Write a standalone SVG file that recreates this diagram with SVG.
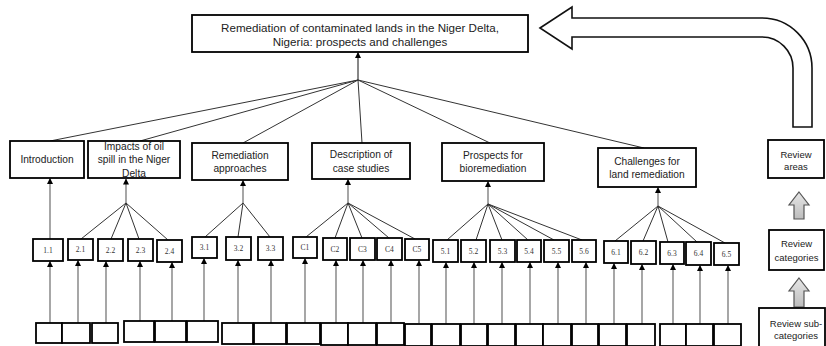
<svg xmlns="http://www.w3.org/2000/svg" width="826" height="346" viewBox="0 0 826 346">
<style>
.box{fill:#fff;stroke:#000;stroke-width:1.8}
.lbl{font-family:"Liberation Sans",Arial,sans-serif;font-size:10.2px;fill:#222;text-anchor:middle}
.leg{font-family:"Liberation Sans",Arial,sans-serif;font-size:9.5px;fill:#222;text-anchor:middle}
.ttl{font-family:"Liberation Sans",Arial,sans-serif;font-size:11.6px;fill:#222;text-anchor:middle}
.sub{font-family:"Liberation Serif","Times New Roman",serif;font-size:7.5px;fill:#333;text-anchor:middle}
.hub{stroke:#333;stroke-width:1;fill:none}
.up{stroke:#777;stroke-width:1.3;fill:none;marker-end:url(#ah)}
.tup{stroke:#111;stroke-width:1;fill:none;marker-end:url(#ah)}
.big{fill:#fff;stroke:#111;stroke-width:1.6}
.gray{fill:url(#gg);stroke:#555;stroke-width:1.2}
</style>
<defs>
<marker id="ah" markerWidth="6" markerHeight="6" refX="5.5" refY="3" orient="auto" markerUnits="userSpaceOnUse">
<path d="M0,0 L6,3 L0,6 z" fill="#000"/>
</marker>
<linearGradient id="gg" x1="0" y1="0" x2="0" y2="1">
<stop offset="0" stop-color="#e6e6e6"/>
<stop offset="1" stop-color="#bdbdbd"/>
</linearGradient>
</defs>

<g id="big-arrow">
<path class="big" d="M540,28 L572,7 L572,18 L762,18 A50,50 0 0 1 812,68 L812,127 L793,127 L793,68 A31,31 0 0 0 762,37 L572,37 L572,49 Z"/>
</g>

<g id="connectors">
<line class="tup" x1="358" y1="80" x2="358" y2="52.5"/>
<line class="hub" x1="358" y1="80" x2="50" y2="141"/>
<line class="hub" x1="358" y1="80" x2="140" y2="141"/>
<line class="hub" x1="358" y1="80" x2="243" y2="143"/>
<line class="hub" x1="358" y1="80" x2="362" y2="143"/>
<line class="hub" x1="358" y1="80" x2="490" y2="143"/>
<line class="hub" x1="358" y1="80" x2="644" y2="148"/>

<line class="up" x1="50" y1="239" x2="50" y2="178.5"/>
<line class="up" x1="126" y1="203" x2="126" y2="179"/>
<line class="hub" x1="126" y1="203" x2="81" y2="239"/>
<line class="hub" x1="126" y1="203" x2="111" y2="239"/>
<line class="hub" x1="126" y1="203" x2="139" y2="239"/>
<line class="hub" x1="126" y1="203" x2="168" y2="240"/>

<line class="up" x1="243" y1="203" x2="243" y2="180.5"/>
<line class="hub" x1="243" y1="203" x2="205" y2="237"/>
<line class="hub" x1="243" y1="203" x2="238" y2="237"/>
<line class="hub" x1="243" y1="203" x2="270" y2="237"/>

<line class="up" x1="348" y1="203" x2="348" y2="179.5"/>
<line class="hub" x1="348" y1="203" x2="306" y2="237"/>
<line class="hub" x1="348" y1="203" x2="335" y2="238"/>
<line class="hub" x1="348" y1="203" x2="362" y2="238"/>
<line class="hub" x1="348" y1="203" x2="389" y2="238"/>
<line class="hub" x1="348" y1="203" x2="415" y2="239"/>

<line class="up" x1="488" y1="204" x2="488" y2="181.5"/>
<line class="hub" x1="488" y1="204" x2="447" y2="240"/>
<line class="hub" x1="488" y1="204" x2="476" y2="240"/>
<line class="hub" x1="488" y1="204" x2="502" y2="240"/>
<line class="hub" x1="488" y1="204" x2="528" y2="240"/>
<line class="hub" x1="488" y1="204" x2="554" y2="240"/>
<line class="hub" x1="488" y1="204" x2="582" y2="240"/>

<line class="up" x1="658" y1="206" x2="658" y2="187.5"/>
<line class="hub" x1="658" y1="206" x2="615" y2="241"/>
<line class="hub" x1="658" y1="206" x2="643" y2="241"/>
<line class="hub" x1="658" y1="206" x2="668" y2="242"/>
<line class="hub" x1="658" y1="206" x2="697" y2="242"/>
<line class="hub" x1="658" y1="206" x2="725" y2="243"/>

<line class="up" x1="50" y1="323" x2="50" y2="261.5"/>
<line class="up" x1="78" y1="323" x2="78" y2="260.5"/>
<line class="up" x1="106" y1="323" x2="106" y2="261.5"/>
<line class="up" x1="140" y1="321" x2="140" y2="261.5"/>
<line class="up" x1="172" y1="321" x2="172" y2="262.5"/>
<line class="up" x1="204" y1="321" x2="204" y2="258.5"/>
<line class="up" x1="238" y1="323" x2="238" y2="260.5"/>
<line class="up" x1="271" y1="323" x2="271" y2="260.5"/>
<line class="up" x1="305" y1="323" x2="305" y2="258.5"/>
<line class="up" x1="336" y1="323" x2="336" y2="260.5"/>
<line class="up" x1="363" y1="323" x2="363" y2="260.5"/>
<line class="up" x1="391" y1="323" x2="391" y2="260.5"/>
<line class="up" x1="419" y1="323" x2="419" y2="260.5"/>
<line class="up" x1="446" y1="324" x2="446" y2="262.5"/>
<line class="up" x1="474" y1="324" x2="474" y2="262.5"/>
<line class="up" x1="502" y1="324" x2="502" y2="262.5"/>
<line class="up" x1="530" y1="324" x2="530" y2="262.5"/>
<line class="up" x1="558" y1="324" x2="558" y2="262.5"/>
<line class="up" x1="586" y1="324" x2="586" y2="262.5"/>
<line class="up" x1="614" y1="324" x2="614" y2="263.5"/>
<line class="up" x1="642" y1="324" x2="642" y2="264.5"/>
<line class="up" x1="673" y1="324" x2="673" y2="264.5"/>
<line class="up" x1="700" y1="324" x2="700" y2="265.5"/>
<line class="up" x1="728" y1="324" x2="728" y2="265.5"/>
</g>

<g id="title">
<rect class="box" x="192" y="15" width="336" height="37"/>
<text class="ttl" x="360" y="32">Remediation of contaminated lands in the Niger Delta,</text>
<text class="ttl" x="360" y="46">Nigeria: prospects and challenges</text>
</g>

<g id="cat-introduction">
<rect class="box" x="10" y="141" width="74" height="37"/>
<text class="lbl" x="47" y="163">Introduction</text>
</g>
<g id="cat-impacts">
<rect class="box" x="88" y="141" width="92" height="37"/>
<text class="lbl" x="134" y="150">Impacts of oil</text>
<text class="lbl" x="134" y="163">spill in the Niger</text>
<text class="lbl" x="134" y="177">Delta</text>
</g>
<g id="cat-remediation">
<rect class="box" x="192" y="143" width="96" height="37"/>
<text class="lbl" x="240" y="159">Remediation</text>
<text class="lbl" x="240" y="172">approaches</text>
</g>
<g id="cat-description">
<rect class="box" x="312" y="143" width="98" height="36"/>
<text class="lbl" x="361" y="158">Description of</text>
<text class="lbl" x="361" y="172">case studies</text>
</g>
<g id="cat-prospects">
<rect class="box" x="442" y="143" width="102" height="38"/>
<text class="lbl" x="493" y="159">Prospects for</text>
<text class="lbl" x="493" y="172">bioremediation</text>
</g>
<g id="cat-challenges">
<rect class="box" x="598" y="148" width="98" height="39"/>
<text class="lbl" x="647" y="165">Challenges for</text>
<text class="lbl" x="647" y="178">land remediation</text>
</g>

<g id="sub-1-1"><rect class="box" x="33" y="239" width="30" height="22"/><text class="sub" x="48" y="252.5">1.1</text></g>
<g id="sub-2-1"><rect class="box" x="68" y="239" width="25" height="21"/><text class="sub" x="80.5" y="252">2.1</text></g>
<g id="sub-2-2"><rect class="box" x="98" y="239" width="25" height="22"/><text class="sub" x="110.5" y="252.5">2.2</text></g>
<g id="sub-2-3"><rect class="box" x="128" y="239" width="25" height="22"/><text class="sub" x="140.5" y="252.5">2.3</text></g>
<g id="sub-2-4"><rect class="box" x="157" y="240" width="25" height="22"/><text class="sub" x="169.5" y="253.5">2.4</text></g>
<g id="sub-3-1"><rect class="box" x="192" y="237" width="25" height="21"/><text class="sub" x="204.5" y="250">3.1</text></g>
<g id="sub-3-2"><rect class="box" x="226" y="237" width="25" height="23"/><text class="sub" x="238.5" y="251">3.2</text></g>
<g id="sub-3-3"><rect class="box" x="258" y="237" width="25" height="23"/><text class="sub" x="270.5" y="251">3.3</text></g>
<g id="sub-c1"><rect class="box" x="293" y="237" width="24" height="21"/><text class="sub" x="305" y="250">C1</text></g>
<g id="sub-c2"><rect class="box" x="323" y="238" width="24" height="22"/><text class="sub" x="335" y="251.5">C2</text></g>
<g id="sub-c3"><rect class="box" x="350" y="238" width="25" height="22"/><text class="sub" x="362.5" y="251.5">C3</text></g>
<g id="sub-c4"><rect class="box" x="377" y="238" width="25" height="22"/><text class="sub" x="389.5" y="251.5">C4</text></g>
<g id="sub-c5"><rect class="box" x="405" y="239" width="24" height="21"/><text class="sub" x="417" y="252">C5</text></g>
<g id="sub-5-1"><rect class="box" x="433" y="240" width="25" height="22"/><text class="sub" x="445.5" y="253.5">5.1</text></g>
<g id="sub-5-2"><rect class="box" x="461" y="240" width="25" height="22"/><text class="sub" x="473.5" y="253.5">5.2</text></g>
<g id="sub-5-3"><rect class="box" x="490" y="240" width="25" height="22"/><text class="sub" x="502.5" y="253.5">5.3</text></g>
<g id="sub-5-4"><rect class="box" x="517" y="240" width="24" height="22"/><text class="sub" x="529" y="253.5">5.4</text></g>
<g id="sub-5-5"><rect class="box" x="544" y="240" width="25" height="22"/><text class="sub" x="556.5" y="253.5">5.5</text></g>
<g id="sub-5-6"><rect class="box" x="572" y="240" width="24" height="22"/><text class="sub" x="584" y="253.5">5.6</text></g>
<g id="sub-6-1"><rect class="box" x="604" y="241" width="24" height="22"/><text class="sub" x="616" y="254.5">6.1</text></g>
<g id="sub-6-2"><rect class="box" x="631" y="241" width="25" height="23"/><text class="sub" x="643.5" y="255">6.2</text></g>
<g id="sub-6-3"><rect class="box" x="660" y="242" width="24" height="22"/><text class="sub" x="672" y="255.5">6.3</text></g>
<g id="sub-6-4"><rect class="box" x="686" y="242" width="25" height="23"/><text class="sub" x="698.5" y="256">6.4</text></g>
<g id="sub-6-5"><rect class="box" x="714" y="243" width="25" height="22"/><text class="sub" x="726.5" y="256.5">6.5</text></g>

<g id="bottom-boxes">
<rect class="box" x="36" y="323" width="26" height="20"/>
<rect class="box" x="62" y="323" width="28" height="20"/>
<rect class="box" x="92" y="323" width="26" height="20"/>
<rect class="box" x="124" y="321" width="30" height="21"/>
<rect class="box" x="155" y="321" width="31" height="21"/>
<rect class="box" x="187" y="321" width="31" height="21"/>
<rect class="box" x="222" y="323" width="31" height="21"/>
<rect class="box" x="254" y="323" width="32" height="21"/>
<rect class="box" x="287" y="323" width="33" height="21"/>
<rect class="box" x="321" y="323" width="27" height="22"/>
<rect class="box" x="348" y="323" width="28" height="22"/>
<rect class="box" x="377" y="323" width="27" height="22"/>
<rect class="box" x="405" y="324" width="26" height="22"/>
<rect class="box" x="432" y="324" width="28" height="22"/>
<rect class="box" x="461" y="324" width="26" height="22"/>
<rect class="box" x="488" y="324" width="27" height="22"/>
<rect class="box" x="516" y="324" width="27" height="22"/>
<rect class="box" x="543" y="324" width="28" height="22"/>
<rect class="box" x="572" y="324" width="26" height="22"/>
<rect class="box" x="599" y="324" width="27" height="22"/>
<rect class="box" x="627" y="324" width="28" height="22"/>
<rect class="box" x="660" y="324" width="26" height="22"/>
<rect class="box" x="686" y="324" width="27" height="22"/>
<rect class="box" x="714" y="324" width="27" height="22"/>
</g>

<g id="legend-areas">
<rect class="box" x="768" y="140" width="56" height="38"/>
<text class="leg" x="796" y="158">Review</text>
<text class="leg" x="796" y="170">areas</text>
</g>
<g id="legend-arrow-1">
<path class="gray" d="M799,192 L809,205 L804,205 L804,219 L794,219 L794,205 L789,205 Z"/>
</g>
<g id="legend-categories">
<rect class="box" x="769" y="230" width="55" height="40"/>
<text class="leg" x="796.5" y="247">Review</text>
<text class="leg" x="796.5" y="261">categories</text>
</g>
<g id="legend-arrow-2">
<path class="gray" d="M799,278 L809,291 L804,291 L804,307 L794,307 L794,291 L789,291 Z"/>
</g>
<g id="legend-subcategories">
<rect class="box" x="759" y="308" width="66" height="40"/>
<text class="leg" x="796" y="327">Review sub-</text>
<text class="leg" x="796" y="339">categories</text>
</g>
</svg>
